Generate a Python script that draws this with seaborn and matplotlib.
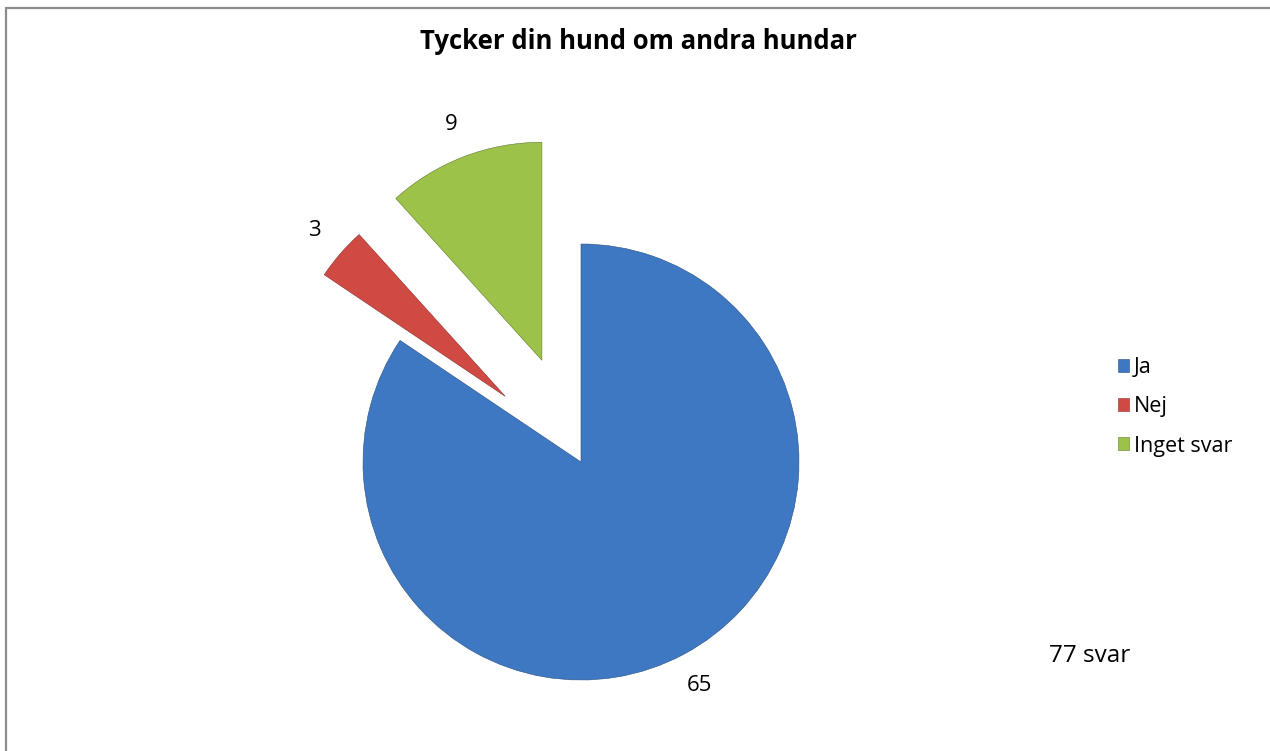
import numpy as np
import pandas as pd
import matplotlib.pyplot as plt
import seaborn as sns

# Data
categories = ['Ja', 'Nej', 'Inget svar']
counts     = [65, 3, 9]
explode    = [0.0, 0.46, 0.5]
colors     = ['#3E78C3', '#D04A44', '#9DC24A']
title      = 'Tycker din hund om andra hundar'
total_txt  = '77 svar'

sns.set_theme(style='white')
plt.rcParams['font.family'] = ['Open Sans', 'DejaVu Sans']
plt.rcParams['text.color'] = 'black'

fig = plt.figure(figsize=(12.7, 7.51), dpi=100)
ax = fig.add_axes([0, 0, 1, 1])

wedges, texts = ax.pie(counts, labels=[str(c) for c in counts], colors=colors,
                       explode=explode, startangle=90, counterclock=False,
                       radius=1.0, center=(0, 0), labeldistance=1.16,
                       wedgeprops=dict(edgecolor='#2a4f80', linewidth=0.4),
                       textprops=dict(fontsize=16, color='black'))
wedges[1].set_edgecolor('#8a2d2a')
wedges[2].set_edgecolor('#5f7a28')
for t in texts:
    t.set_ha('center')
    t.set_va('center')

# map data units to pixels: 1 unit = 218 px, pie centre at (581, 462)
ax.set_xlim(-581 / 218, (1270 - 581) / 218)
ax.set_ylim(-(751 - 462) / 218, 462 / 218)
ax.set_aspect('auto')
ax.axis('off')

fig.text(0.503, 0.945, title, ha='center', va='center', fontsize=18.5,
         fontweight='bold', color='black')
fig.text(0.858, 0.127, total_txt, ha='center', va='center', fontsize=17.5, color='black')

leg = ax.legend(wedges, categories, loc='upper left', bbox_to_anchor=(0.8715, 0.539),
                bbox_transform=fig.transFigure, frameon=False, fontsize=15.5,
                handlelength=0.55, handleheight=0.55, handletextpad=0.2,
                labelspacing=0.85, borderpad=0)
for t in leg.get_texts():
    t.set_color('black')

# chart frame (left / top edge visible)
frame = plt.Rectangle((0.005, -0.1), 1.2, 1.09, transform=fig.transFigure,
                      fill=False, edgecolor='#8c8c8c', linewidth=1.6, clip_on=False)
fig.add_artist(frame)

plt.savefig('out.png', dpi=100)
